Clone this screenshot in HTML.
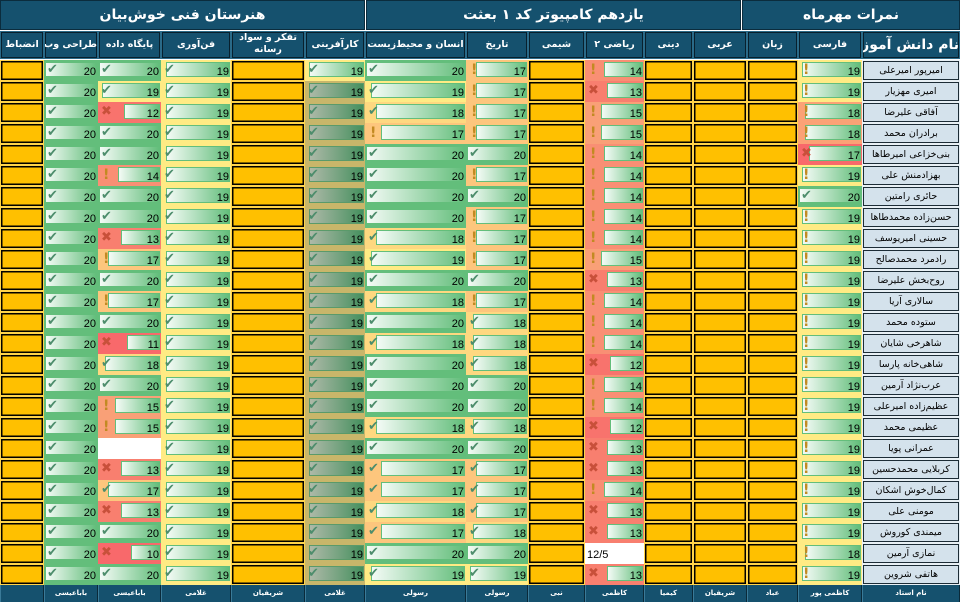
<!DOCTYPE html>
<html><head><meta charset="utf-8">
<style>
body{margin:0;width:960px;height:602px;overflow:hidden;background:#fff;font-family:"DejaVu Sans","Liberation Sans",sans-serif;position:relative}
.h1{position:absolute;top:0;height:30px;background:#15516e;color:#fff;font-weight:bold;font-size:14px;line-height:30px;text-align:center;direction:rtl;box-shadow:inset 0 0 0 1px #0b2c3d}
.r{display:flex;height:21px}
.r>*{height:21px;box-sizing:border-box;margin:0;flex:none}
.r>:nth-child(1){width:44px}.r>:nth-child(2){width:54px}.r>:nth-child(3){width:63px}.r>:nth-child(4){width:70px}.r>:nth-child(5){width:74px}.r>:nth-child(6){width:60px}.r>:nth-child(7){width:101px}.r>:nth-child(8){width:62px}.r>:nth-child(9){width:57px}.r>:nth-child(10){width:59px}.r>:nth-child(11){width:49px}.r>:nth-child(12){width:54px}.r>:nth-child(13){width:51px}.r>:nth-child(14){width:64px}.r>:nth-child(15){width:98px}
#hd{position:absolute;top:31px;left:0}
#hd .r,#hd .r>*{height:28px}
#hd .r>*{background:#15516e;color:#fff;font-weight:bold;font-size:9.5px;text-align:center;line-height:26px;direction:rtl;box-shadow:inset 0 0 0 1px #08202d;border:1px solid #2a6a88;overflow:hidden;white-space:nowrap}
#d{position:absolute;top:60px;left:0}
#ft{position:absolute;top:585px;left:0}
#ft .r,#ft .r>*{height:17px}
#ft .r>*{background:#15516e;color:#fff;font-weight:bold;font-size:7px;text-align:center;line-height:17px;direction:rtl;border-right:1px solid #0a2a3a;border-left:1px solid #3a7a98}
p{position:relative;z-index:0;font-size:11px;text-align:right;padding:5px 2px 0 0;line-height:14px;color:#000;font-family:"Liberation Sans",sans-serif}
p::before{content:"";position:absolute;right:1px;top:2px;height:15px;z-index:-1;background:linear-gradient(to right,#f4fbf6,#63be7b);border:1px solid #63be7b;box-sizing:border-box}
.o::before,.w::before,.n::before{display:none}
.v20::before{width:calc(100% - 2px)}.v19::before{width:calc(95% - 2px)}.v18::before{width:calc(90% - 2px)}.v17::before{width:calc(85% - 2px)}.v15::before{width:calc(75% - 2px)}.v14::before{width:calc(70% - 2px)}.v13::before{width:calc(65% - 2px)}.v12::before{width:calc(60% - 2px)}.v11::before{width:calc(55% - 2px)}.v10::before{width:calc(50% - 2px)}
.k::after,.e::after,.x::after{position:absolute;z-index:1;top:3px;font-family:"DejaVu Sans",sans-serif;line-height:14px}
.k::after{content:"✔";left:3px;color:#4d8d6c;font-size:13px}
.e::after{content:"!";left:5px;color:#c28a22;font-weight:bold;font-size:14px}
.x::after{content:"✖";left:3px;color:#c8503a;font-size:13px}
.o{background:#ffc000;border:1px solid #ffd34a;box-shadow:inset 0 0 0 1.5px #000}
.g{background:#63be7b}.y{background:#ffeb84}.a{background:#fed880}.p{background:#fdc67d}.s{background:#f9a077}.t{background:#f98f74}.r0{background:#f87f6f}.q{background:#f8736d}.d{background:#f8696b}.f{background:#fba276}.w{background:#fff}
.kf{background:#c8b66a}
.kf::before{background:linear-gradient(to right,#aeb9a8,#45905e);border-color:#5a9a6a}
.n{background:#d4e2ec;box-shadow:inset 0 0 0 1px #1c2c36;border:1px solid #e8f0f5;text-align:center;direction:rtl;font-family:"DejaVu Sans",sans-serif;font-size:9.5px;line-height:19px;padding:0}
</style></head><body>
<div class="h1" style="left:0;width:365px">هنرستان فنی خوش‌بیان</div>
<div class="h1" style="left:366px;width:375px">یازدهم کامپیوتر کد ۱ بعثت</div>
<div class="h1" style="left:742px;width:218px">نمرات مهرماه</div>
<div id="hd"><div class="r"><div>انضباط</div><div>طراحی وب</div><div>پایگاه داده</div><div>فن‌آوری</div><div style="line-height:12px;white-space:normal">تفکر و سواد رسانه</div><div>کارآفرینی</div><div>انسان و محیط‌زیست</div><div>تاریخ</div><div>شیمی</div><div>ریاضی ۲</div><div>دینی</div><div>عربی</div><div>زبان</div><div>فارسی</div><div style="font-size:14px">نام دانش آموز</div></div></div>
<div id="d">
<div class="r"><p class=o></p><p class="g v20 k">20</p><p class="g v20 k">20</p><p class="y v19 k">19</p><p class=o></p><p class="y v19 k">19</p><p class="g v20 k">20</p><p class="p v17 e">17</p><p class=o></p><p class="t v14 e">14</p><p class=o></p><p class=o></p><p class=o></p><p class="y v19 e">19</p><p class=n>امیرپور امیرعلی</p></div>
<div class="r"><p class=o></p><p class="g v20 k">20</p><p class="y v19 k">19</p><p class="y v19 k">19</p><p class=o></p><p class="kf v19 k">19</p><p class="y v19 k">19</p><p class="p v17 e">17</p><p class=o></p><p class="r0 v13 x">13</p><p class=o></p><p class=o></p><p class=o></p><p class="y v19 e">19</p><p class=n>امیری مهزیار</p></div>
<div class="r"><p class=o></p><p class="g v20 k">20</p><p class="q v12 x">12</p><p class="y v19 k">19</p><p class=o></p><p class="kf v19 k">19</p><p class="a v18 k">18</p><p class="p v17 e">17</p><p class=o></p><p class="s v15 e">15</p><p class=o></p><p class=o></p><p class=o></p><p class="f v18 e">18</p><p class=n>آفاقی علیرضا</p></div>
<div class="r"><p class=o></p><p class="g v20 k">20</p><p class="g v20 k">20</p><p class="y v19 k">19</p><p class=o></p><p class="kf v19 k">19</p><p class="p v17 e">17</p><p class="p v17 e">17</p><p class=o></p><p class="s v15 e">15</p><p class=o></p><p class=o></p><p class=o></p><p class="f v18 e">18</p><p class=n>برادران محمد</p></div>
<div class="r"><p class=o></p><p class="g v20 k">20</p><p class="g v20 k">20</p><p class="y v19 k">19</p><p class=o></p><p class="kf v19 k">19</p><p class="g v20 k">20</p><p class="g v20 k">20</p><p class=o></p><p class="t v14 e">14</p><p class=o></p><p class=o></p><p class=o></p><p class="d v17 x">17</p><p class=n>بنی‌خزاعی امیرطاها</p></div>
<div class="r"><p class=o></p><p class="g v20 k">20</p><p class="t v14 e">14</p><p class="y v19 k">19</p><p class=o></p><p class="kf v19 k">19</p><p class="g v20 k">20</p><p class="p v17 e">17</p><p class=o></p><p class="t v14 e">14</p><p class=o></p><p class=o></p><p class=o></p><p class="y v19 e">19</p><p class=n>بهزادمنش علی</p></div>
<div class="r"><p class=o></p><p class="g v20 k">20</p><p class="g v20 k">20</p><p class="y v19 k">19</p><p class=o></p><p class="kf v19 k">19</p><p class="g v20 k">20</p><p class="g v20 k">20</p><p class=o></p><p class="t v14 e">14</p><p class=o></p><p class=o></p><p class=o></p><p class="g v20 k">20</p><p class=n>حائری رامتین</p></div>
<div class="r"><p class=o></p><p class="g v20 k">20</p><p class="g v20 k">20</p><p class="y v19 k">19</p><p class=o></p><p class="kf v19 k">19</p><p class="g v20 k">20</p><p class="p v17 e">17</p><p class=o></p><p class="t v14 e">14</p><p class=o></p><p class=o></p><p class=o></p><p class="y v19 e">19</p><p class=n>حسن‌زاده محمدطاها</p></div>
<div class="r"><p class=o></p><p class="g v20 k">20</p><p class="r0 v13 x">13</p><p class="y v19 k">19</p><p class=o></p><p class="kf v19 k">19</p><p class="a v18 k">18</p><p class="p v17 e">17</p><p class=o></p><p class="t v14 e">14</p><p class=o></p><p class=o></p><p class=o></p><p class="y v19 e">19</p><p class=n>حسینی امیریوسف</p></div>
<div class="r"><p class=o></p><p class="g v20 k">20</p><p class="p v17 e">17</p><p class="y v19 k">19</p><p class=o></p><p class="kf v19 k">19</p><p class="y v19 k">19</p><p class="p v17 e">17</p><p class=o></p><p class="s v15 e">15</p><p class=o></p><p class=o></p><p class=o></p><p class="y v19 e">19</p><p class=n>رادمرد محمدصالح</p></div>
<div class="r"><p class=o></p><p class="g v20 k">20</p><p class="g v20 k">20</p><p class="y v19 k">19</p><p class=o></p><p class="kf v19 k">19</p><p class="g v20 k">20</p><p class="g v20 k">20</p><p class=o></p><p class="r0 v13 x">13</p><p class=o></p><p class=o></p><p class=o></p><p class="y v19 e">19</p><p class=n>روح‌بخش علیرضا</p></div>
<div class="r"><p class=o></p><p class="g v20 k">20</p><p class="p v17 e">17</p><p class="y v19 k">19</p><p class=o></p><p class="kf v19 k">19</p><p class="a v18 k">18</p><p class="p v17 e">17</p><p class=o></p><p class="t v14 e">14</p><p class=o></p><p class=o></p><p class=o></p><p class="y v19 e">19</p><p class=n>سالاری آریا</p></div>
<div class="r"><p class=o></p><p class="g v20 k">20</p><p class="g v20 k">20</p><p class="y v19 k">19</p><p class=o></p><p class="kf v19 k">19</p><p class="g v20 k">20</p><p class="a v18 k">18</p><p class=o></p><p class="t v14 e">14</p><p class=o></p><p class=o></p><p class=o></p><p class="y v19 e">19</p><p class=n>ستوده محمد</p></div>
<div class="r"><p class=o></p><p class="g v20 k">20</p><p class="d v11 x">11</p><p class="y v19 k">19</p><p class=o></p><p class="kf v19 k">19</p><p class="a v18 k">18</p><p class="a v18 k">18</p><p class=o></p><p class="t v14 e">14</p><p class=o></p><p class=o></p><p class=o></p><p class="y v19 e">19</p><p class=n>شاهرخی شایان</p></div>
<div class="r"><p class=o></p><p class="g v20 k">20</p><p class="a v18 k">18</p><p class="y v19 k">19</p><p class=o></p><p class="kf v19 k">19</p><p class="g v20 k">20</p><p class="a v18 k">18</p><p class=o></p><p class="q v12 x">12</p><p class=o></p><p class=o></p><p class=o></p><p class="y v19 e">19</p><p class=n>شاهی‌خانه پارسا</p></div>
<div class="r"><p class=o></p><p class="g v20 k">20</p><p class="g v20 k">20</p><p class="y v19 k">19</p><p class=o></p><p class="kf v19 k">19</p><p class="g v20 k">20</p><p class="g v20 k">20</p><p class=o></p><p class="t v14 e">14</p><p class=o></p><p class=o></p><p class=o></p><p class="y v19 e">19</p><p class=n>عرب‌نژاد آرمین</p></div>
<div class="r"><p class=o></p><p class="g v20 k">20</p><p class="s v15 e">15</p><p class="y v19 k">19</p><p class=o></p><p class="kf v19 k">19</p><p class="g v20 k">20</p><p class="g v20 k">20</p><p class=o></p><p class="t v14 e">14</p><p class=o></p><p class=o></p><p class=o></p><p class="y v19 e">19</p><p class=n>عظیم‌زاده امیرعلی</p></div>
<div class="r"><p class=o></p><p class="g v20 k">20</p><p class="s v15 e">15</p><p class="y v19 k">19</p><p class=o></p><p class="kf v19 k">19</p><p class="a v18 k">18</p><p class="a v18 k">18</p><p class=o></p><p class="q v12 x">12</p><p class=o></p><p class=o></p><p class=o></p><p class="y v19 e">19</p><p class=n>عظیمی محمد</p></div>
<div class="r"><p class=o></p><p class="g v20 k">20</p><p class="w"></p><p class="y v19 k">19</p><p class=o></p><p class="kf v19 k">19</p><p class="g v20 k">20</p><p class="g v20 k">20</p><p class=o></p><p class="r0 v13 x">13</p><p class=o></p><p class=o></p><p class=o></p><p class="y v19 e">19</p><p class=n>عمرانی پویا</p></div>
<div class="r"><p class=o></p><p class="g v20 k">20</p><p class="r0 v13 x">13</p><p class="y v19 k">19</p><p class=o></p><p class="kf v19 k">19</p><p class="p v17 k">17</p><p class="p v17 k">17</p><p class=o></p><p class="r0 v13 x">13</p><p class=o></p><p class=o></p><p class=o></p><p class="y v19 e">19</p><p class=n>کربلایی محمدحسین</p></div>
<div class="r"><p class=o></p><p class="g v20 k">20</p><p class="p v17 k">17</p><p class="y v19 k">19</p><p class=o></p><p class="kf v19 k">19</p><p class="p v17 k">17</p><p class="p v17 k">17</p><p class=o></p><p class="t v14 e">14</p><p class=o></p><p class=o></p><p class=o></p><p class="y v19 e">19</p><p class=n>کمال‌خوش اشکان</p></div>
<div class="r"><p class=o></p><p class="g v20 k">20</p><p class="r0 v13 x">13</p><p class="y v19 k">19</p><p class=o></p><p class="kf v19 k">19</p><p class="a v18 k">18</p><p class="p v17 k">17</p><p class=o></p><p class="r0 v13 x">13</p><p class=o></p><p class=o></p><p class=o></p><p class="y v19 e">19</p><p class=n>مومنی علی</p></div>
<div class="r"><p class=o></p><p class="g v20 k">20</p><p class="g v20 k">20</p><p class="y v19 k">19</p><p class=o></p><p class="kf v19 k">19</p><p class="p v17 k">17</p><p class="a v18 k">18</p><p class=o></p><p class="r0 v13 x">13</p><p class=o></p><p class=o></p><p class=o></p><p class="y v19 e">19</p><p class=n>میمندی کوروش</p></div>
<div class="r"><p class=o></p><p class="g v20 k">20</p><p class="d v10 x">10</p><p class="y v19 k">19</p><p class=o></p><p class="kf v19 k">19</p><p class="g v20 k">20</p><p class="g v20 k">20</p><p class=o></p><p class="w" style="text-align:left;padding-left:2px">12/5</p><p class=o></p><p class=o></p><p class=o></p><p class="y v18 e">18</p><p class=n>نمازی آرمین</p></div>
<div class="r"><p class=o></p><p class="g v20 k">20</p><p class="g v20 k">20</p><p class="y v19 k">19</p><p class=o></p><p class="kf v19 k">19</p><p class="y v19 k">19</p><p class="y v19 k">19</p><p class=o></p><p class="r0 v13 x">13</p><p class=o></p><p class=o></p><p class=o></p><p class="y v19 e">19</p><p class=n>هاتفی شروین</p></div>
</div>
<div id="ft"><div class="r"><div></div><div>باباعیسی</div><div>باباعیسی</div><div>غلامی</div><div>شریفیان</div><div>غلامی</div><div>رسولی</div><div>رسولی</div><div>نبی</div><div>کاظمی</div><div>کیمیا</div><div>شریفیان</div><div>عباد</div><div>کاظمی پور</div><div>نام استاد</div></div></div>
</body></html>
